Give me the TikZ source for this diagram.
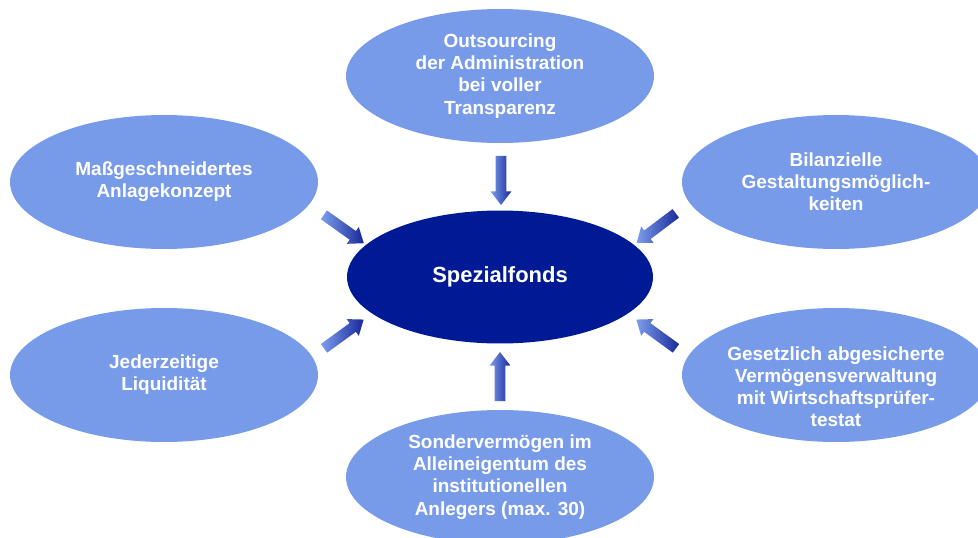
\documentclass[tikz,border=0pt]{standalone}
\usepackage{fontspec}
\setmainfont{Liberation Sans}
\usepackage{tikz}
\usetikzlibrary{shapes.geometric,shapes.arrows}

\definecolor{bubblue}{RGB}{120,155,233}
\definecolor{fondblue}{RGB}{0,26,150}
\definecolor{arrlight}{RGB}{125,158,235}
\definecolor{arrdark}{RGB}{24,40,155}

\tikzset{
  bubble/.style={ellipse, fill=bubblue, inner sep=0pt, minimum width=6.16cm, minimum height=2.68cm,
    text=white, align=center, font=\bfseries\fontsize{10.8}{12.6}\selectfont},
  bubtext/.style={text=white, align=center, font=\bfseries\fontsize{10.8}{12.6}\selectfont},
  fondbox/.style={ellipse, fill=fondblue, inner sep=0pt, minimum width=6.12cm, minimum height=2.66cm,
    text=white, font=\bfseries\fontsize{12.5}{14}\selectfont},
  fatarrow/.style={single arrow, inner xsep=0pt, inner ysep=0.1cm, minimum height=0.98cm,
    single arrow head extend=0.1cm, single arrow tip angle=75,
    left color=arrlight, right color=arrdark}
}

\begin{document}
\begin{tikzpicture}[x=0.02cm, y=-0.02cm]
\useasboundingbox (0,0) rectangle (978,538);
%nodes

\node (fonds) [fondbox] at (500,277)             {Spezialfonds};

\node (outs)  [bubble]  at (500,76)  {Outsourcing\\der Administration\\bei voller\\Transparenz};
\node (mass)  [bubble]  at (164,182) {Maßgeschneidertes\\Anlagekonzept};
\node (bil)   [bubble]  at (836,182) {Bilanzielle\\Gestaltungsmöglich-\\keiten};
\node (jed)   [bubble]  at (164,375) {Jederzeitige\\Liquidität};
\node (ges)   [bubble]  at (836,375) {};
\node (gestext) [bubtext] at ([yshift=-12*0.02cm]ges.center)
      {Gesetzlich abgesicherte\\Vermögensverwaltung\\mit Wirtschaftsprüfer-\\testat};
\node (sond)  [bubble]  at (500,477) {Sondervermögen im\\Alleineigentum des\\institutionellen\\Anlegers (max. 30)};

%links
\node (a-outs) [fatarrow, rotate=-90]   at (501,177) {};
\node (a-sond) [fatarrow, rotate=90]    at (500,380) {};
\node (a-mass) [fatarrow, rotate=-35.4] at (341,227) {};
\node (a-bil)  [fatarrow, rotate=-143]  at (659,226) {};
\node (a-jed)  [fatarrow, rotate=36]    at (341,336) {};
\node (a-ges)  [fatarrow, rotate=144]   at (659,336) {};
\end{tikzpicture}
\end{document}
